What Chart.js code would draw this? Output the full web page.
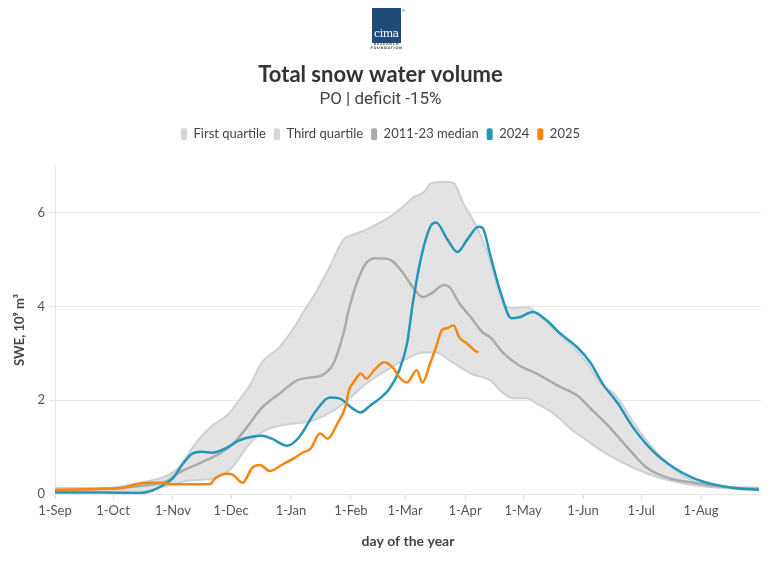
<!DOCTYPE html>
<html>
<head>
<meta charset="utf-8">
<script src="https://cdn.jsdelivr.net/npm/chart.js@4"></script>
<style>
  html, body { margin: 0; padding: 0; background: #fff; }
  #wrap { position: relative; width: 782px; height: 562px; }
  #logo { position: absolute; left: 372px; top: 8px; width: 29px; height: 35px; background: #1f4b7a; }
  #logo span { position: absolute; left: 2px; bottom: 3px; color: #fff; font: 11px 'DejaVu Serif', serif; letter-spacing: -0.5px; }
  #logo i { position: absolute; right: -4px; top: 1px; width: 3px; height: 3px; background: #c9d3de; }
  #logosub { position: absolute; left: 366px; top: 43px; width: 41px; text-align: center; font: bold 3.5px 'DejaVu Sans', sans-serif; color: #555; line-height: 3.8px; letter-spacing: 0.6px; }
</style>
</head>
<body>
<div id="wrap">
  <canvas id="c" width="782" height="562"></canvas>
  <div id="logo"><span>cima</span><i></i></div>
  <div id="logosub">RESEARCH<br>FOUNDATION</div>
</div>
<script>
// ---- data (day index from 1-Sep, SWE in 10^9 m^3) ----
const monthDays = [0, 30, 61, 91, 122, 153, 181, 212, 242, 273, 303, 334];
const monthLabels = ['1-Sep','1-Oct','1-Nov','1-Dec','1-Jan','1-Feb','1-Mar','1-Apr','1-May','1-Jun','1-Jul','1-Aug'];
const yTicks = [0, 2, 4, 6];
const seriesNames = ['First quartile', 'Third quartile', '2011-23 median', '2024', '2025'];

const q1Days = [0,44,58,68,83,92,99,106,112,123,133,147,161,173,183,190,197,204,215,225,232,237,244,249,258,266,275,285,299,313,327,351,364];
const q1Vals = [0.06,0.05,0.17,0.28,0.34,0.58,0.99,1.29,1.41,1.50,1.56,1.86,2.36,2.68,2.91,3.02,3.02,2.85,2.57,2.42,2.14,2.04,2.04,1.93,1.71,1.41,1.14,0.86,0.56,0.34,0.21,0.11,0.08];

const q3Days = [0,26,44,58,64,73,81,89,95,101,107,116,125,129,135,142,149,154,161,173,180,185,191,194,201,206,211,218,223,232,237,244,249,260,268,275,283,289,303,317,330,351,364];
const q3Vals = [0.13,0.13,0.24,0.39,0.56,1.10,1.45,1.68,1.99,2.34,2.81,3.13,3.64,3.92,4.31,4.84,5.42,5.53,5.64,5.91,6.13,6.32,6.45,6.62,6.66,6.64,6.21,5.70,5.21,4.07,3.96,3.99,3.86,3.43,3.13,2.79,2.31,2.14,1.29,0.64,0.28,0.15,0.14];

const medDays = [0,44,58,64,75,85,92,99,107,116,125,133,138,144,149,152,156,161,166,171,175,180,185,190,195,201,204,209,215,221,225,232,240,249,260,270,278,285,296,306,317,330,351,364];
const medVals = [0.07,0.17,0.28,0.45,0.66,0.86,1.07,1.41,1.84,2.14,2.42,2.49,2.53,2.79,3.40,3.95,4.50,4.93,5.03,5.02,4.95,4.71,4.41,4.20,4.29,4.46,4.41,4.07,3.77,3.45,3.34,3.00,2.74,2.57,2.31,2.10,1.78,1.50,0.99,0.56,0.34,0.24,0.13,0.11];

const y2024Days = [0,26,44,50,55,61,66,71,76,81,89,95,102,107,112,120,126,135,142,147,154,158,163,168,173,178,182,185,189,194,197,203,208,213,219,221,225,230,236,240,247,254,261,270,277,283,291,299,309,320,330,340,351,364];
const y2024Vals = [0.03,0.03,0.02,0.07,0.17,0.34,0.64,0.86,0.90,0.88,0.99,1.14,1.22,1.24,1.18,1.03,1.20,1.78,2.06,2.04,1.82,1.74,1.89,2.04,2.25,2.64,3.21,4.07,4.99,5.70,5.79,5.42,5.16,5.42,5.70,5.68,5.10,4.35,3.75,3.77,3.88,3.71,3.43,3.13,2.79,2.36,1.93,1.41,0.92,0.56,0.34,0.21,0.13,0.09];

const y2025Days = [0,26,35,42,49,54,61,69,80,83,89,92,97,102,106,111,118,123,128,132,137,141,146,150,152,155,158,161,165,170,175,178,182,187,190,194,197,200,203,206,209,213,217,219];
const y2025Vals = [0.09,0.11,0.13,0.21,0.24,0.24,0.21,0.21,0.21,0.34,0.43,0.41,0.24,0.56,0.62,0.49,0.64,0.75,0.88,0.96,1.29,1.18,1.50,1.84,2.21,2.42,2.57,2.46,2.64,2.81,2.68,2.49,2.38,2.64,2.38,2.79,3.13,3.49,3.54,3.60,3.34,3.21,3.06,3.02];

const legendColors = ['#d3d7dd', '#d3d7dd', '#aaaaaa', '#2596b5', '#f5870f'];

const pts = (d, v) => d.map((x, i) => ({ x: x, y: v[i] }));

const FONT = "Lato, 'Source Sans Pro', 'Noto Sans', sans-serif";

const legendSpacer = {
  id: 'legendSpacer',
  beforeInit(chart) {
    const orig = chart.legend.fit;
    chart.legend.fit = function () { orig.bind(chart.legend)(); this.height += 15; };
  }
};

new Chart(document.getElementById('c'), {
  type: 'line',
  data: {
    datasets: [
      { label: seriesNames[0], data: pts(q1Days, q1Vals), borderColor: '#cdd1d7', backgroundColor: '#e3e3e3', borderWidth: 2, fill: false, order: 5 },
      { label: seriesNames[1], data: pts(q3Days, q3Vals), borderColor: '#cdd1d7', backgroundColor: '#e3e3e3', borderWidth: 2, fill: '-1', order: 4 },
      { label: seriesNames[2], data: pts(medDays, medVals), borderColor: '#ababab', backgroundColor: '#ababab', borderWidth: 2.5, fill: false, order: 3 },
      { label: seriesNames[3], data: pts(y2024Days, y2024Vals), borderColor: '#2596b5', backgroundColor: '#2596b5', borderWidth: 2.5, fill: false, order: 2 },
      { label: seriesNames[4], data: pts(y2025Days, y2025Vals), borderColor: '#f5870f', backgroundColor: '#f5870f', borderWidth: 2.5, fill: false, order: 1 }
    ]
  },
  options: {
    responsive: false,
    animation: false,
    devicePixelRatio: 1,
    layout: { padding: { top: 62, left: 0, right: 21, bottom: 0 } },
    elements: {
      point: { radius: 0, hoverRadius: 0 },
      line: { cubicInterpolationMode: 'monotone' }
    },
    plugins: {
      filler: { drawTime: 'beforeDatasetsDraw' },
      tooltip: { enabled: false },
      title: {
        display: true, text: 'Total snow water volume', color: '#333',
        font: { family: FONT, size: 22, weight: 'bold', lineHeight: 1.2 },
        padding: { top: 0, bottom: 1 }
      },
      subtitle: {
        display: true, text: 'PO | deficit -15%', color: '#444',
        font: { family: "Roboto, sans-serif", size: 17, lineHeight: 1.2 },
        padding: { top: 0, bottom: 10 }
      },
      legend: {
        display: true, position: 'top',
        labels: {
          color: '#444', font: { family: FONT, size: 13 },
          boxWidth: 6, boxHeight: 12, padding: 8,
          useBorderRadius: true, borderRadius: 2,
          sort: (a, b) => a.datasetIndex - b.datasetIndex,
          generateLabels(chart) {
            const items = Chart.defaults.plugins.legend.labels.generateLabels(chart);
            items.forEach(it => {
              it.fillStyle = legendColors[it.datasetIndex];
              it.strokeStyle = legendColors[it.datasetIndex];
              it.lineWidth = 0;
            });
            return items;
          }
        }
      }
    },
    scales: {
      x: {
        type: 'linear', min: 0, max: 365,
        afterBuildTicks: s => { s.ticks = monthDays.map(v => ({ value: v })); },
        afterFit: s => { s.height = 68; },
        ticks: {
          autoSkip: false, maxRotation: 0, color: '#555', padding: 4,
          font: { family: FONT, size: 13 },
          callback: (v) => monthLabels[monthDays.indexOf(v)]
        },
        grid: { drawOnChartArea: false, drawTicks: true, tickLength: 5, color: '#d9d9d9' },
        border: { display: true, color: '#e3e3e3' },
        title: {
          display: true, text: 'day of the year', color: '#444',
          font: { family: FONT, size: 14, weight: 'bold', lineHeight: 1.2 },
          padding: { top: 0, bottom: 12 }
        }
      },
      y: {
        type: 'linear', min: 0, max: 7,
        afterBuildTicks: s => { s.ticks = yTicks.map(v => ({ value: v })); },
        afterFit: s => { s.width = 55; },
        ticks: { color: '#555', padding: 4, font: { family: FONT, size: 13 } },
        grid: { color: '#e8e8e8', drawTicks: true, tickLength: 6 },
        border: { display: true, color: '#e6e6e6' },
        title: {
          display: true, text: 'SWE, 10\u2079 m\u00b3', color: '#444',
          font: { family: FONT, size: 13, weight: 'bold', lineHeight: 1.2 },
          padding: { top: 12, bottom: 0 }
        }
      }
    }
  },
  plugins: [legendSpacer]
});
</script>
</body>
</html>
